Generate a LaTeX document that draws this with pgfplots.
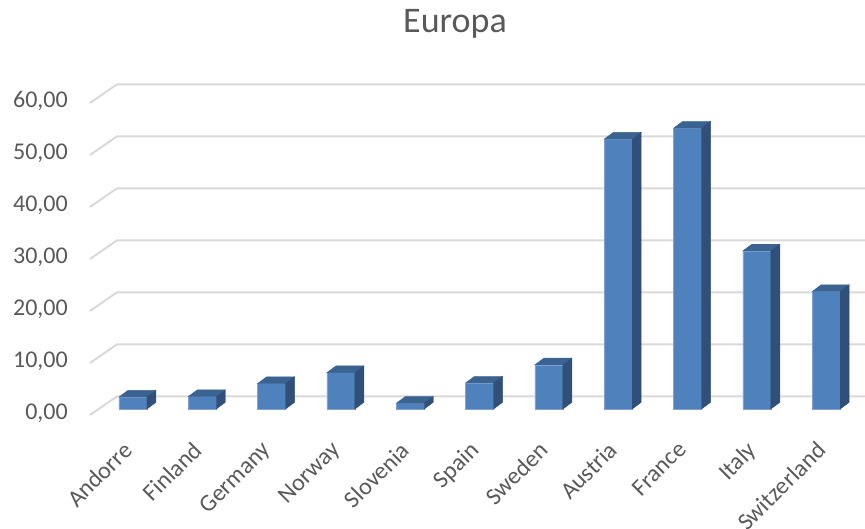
\documentclass[border=0pt]{standalone}
\usepackage{pgfplots}
\pgfplotsset{compat=1.18}
\usepackage{pgfplotstable}
\usepackage{fontspec}
\setmainfont{Carlito}
\definecolor{txt}{HTML}{595959}
\definecolor{gridc}{HTML}{D9D9D9}
\definecolor{front}{HTML}{4F81BD}
\definecolor{topc}{HTML}{3A6391}
\definecolor{sidec}{HTML}{30507A}
\definecolor{edgec}{HTML}{7EA2D2}
\pgfdeclareplotmark{none3d}{}
\pgfplotstableread{
x v
0 2.3
1 2.4
2 4.9
3 7.0
4 1.1
5 5.0
6 8.5
7 51.9
8 54.0
9 30.4
10 22.6
}\data
\begin{document}
\begin{tikzpicture}
\useasboundingbox (0,0) rectangle (865pt,529pt);
\node[anchor=base, text=txt, font=\fontsize{36}{40}\selectfont] at (455pt,496pt) {Europa};
\begin{axis}[
  at={(99pt,120pt)}, anchor=south west,
  scale only axis, width=748pt, height=312pt,
  xmin=-0.49, xmax=10.3, ymin=0, ymax=60,
  clip=false,
  axis x line*=bottom, axis y line*=left,
  axis line style={draw=none},
  major tick length=0pt,
  xtick={0,...,10},
  xticklabels={Andorre,Finland,Germany,Norway,Slovenia,Spain,Sweden,Austria,France,Italy,Switzerland},
  xticklabel style={xshift=-11pt, yshift=-31pt, rotate=45, anchor=north east, inner sep=0pt},
  ytick={0,10,...,60},
  yticklabel style={anchor=east, inner sep=0pt, xshift=-31pt, yshift=-4pt,
    /pgf/number format/fixed, /pgf/number format/fixed zerofill,
    /pgf/number format/precision=2, /pgf/number format/use comma,
    /pgf/number format/assume math mode=true},
  tick label style={font=\fontsize{24}{28}\selectfont, text=txt},
]
\pgfplotsinvokeforeach{0,10,...,60}{
  \draw[gridc, line width=2pt] ([shift={(-9pt,-6pt)}]axis cs:-0.49,#1) -- ([shift={(17.8pt,12.5pt)}]axis cs:-0.49,#1) -- ([shift={(17.8pt,12.5pt)}]axis cs:10.3,#1);
}
\addplot[ybar, bar width=28pt, fill=front, draw=edgec, line width=0.5pt] table[x=x,y=v]{\data};
\addplot[only marks, scatter, mark=none3d,
  visualization depends on={\thisrow{v} \as \vv},
  scatter/@pre marker code/.code={%
    \pgfmathsetmacro\hh{\vv*5.2}%
    \pgfmathsetmacro\hb{6.7-\hh}%
    \fill[topc] (-14pt,0pt) -- (-5pt,6.7pt) -- (23pt,6.7pt) -- (14pt,0pt) -- cycle;
    \fill[sidec] (14pt,0pt) -- (23pt,6.7pt) -- (23pt,\hb pt) -- (14pt,-\hh pt) -- cycle;
  },
  scatter/@post marker code/.code={},
] table[x=x,y=v]{\data};
\end{axis}
\end{tikzpicture}
\end{document}
